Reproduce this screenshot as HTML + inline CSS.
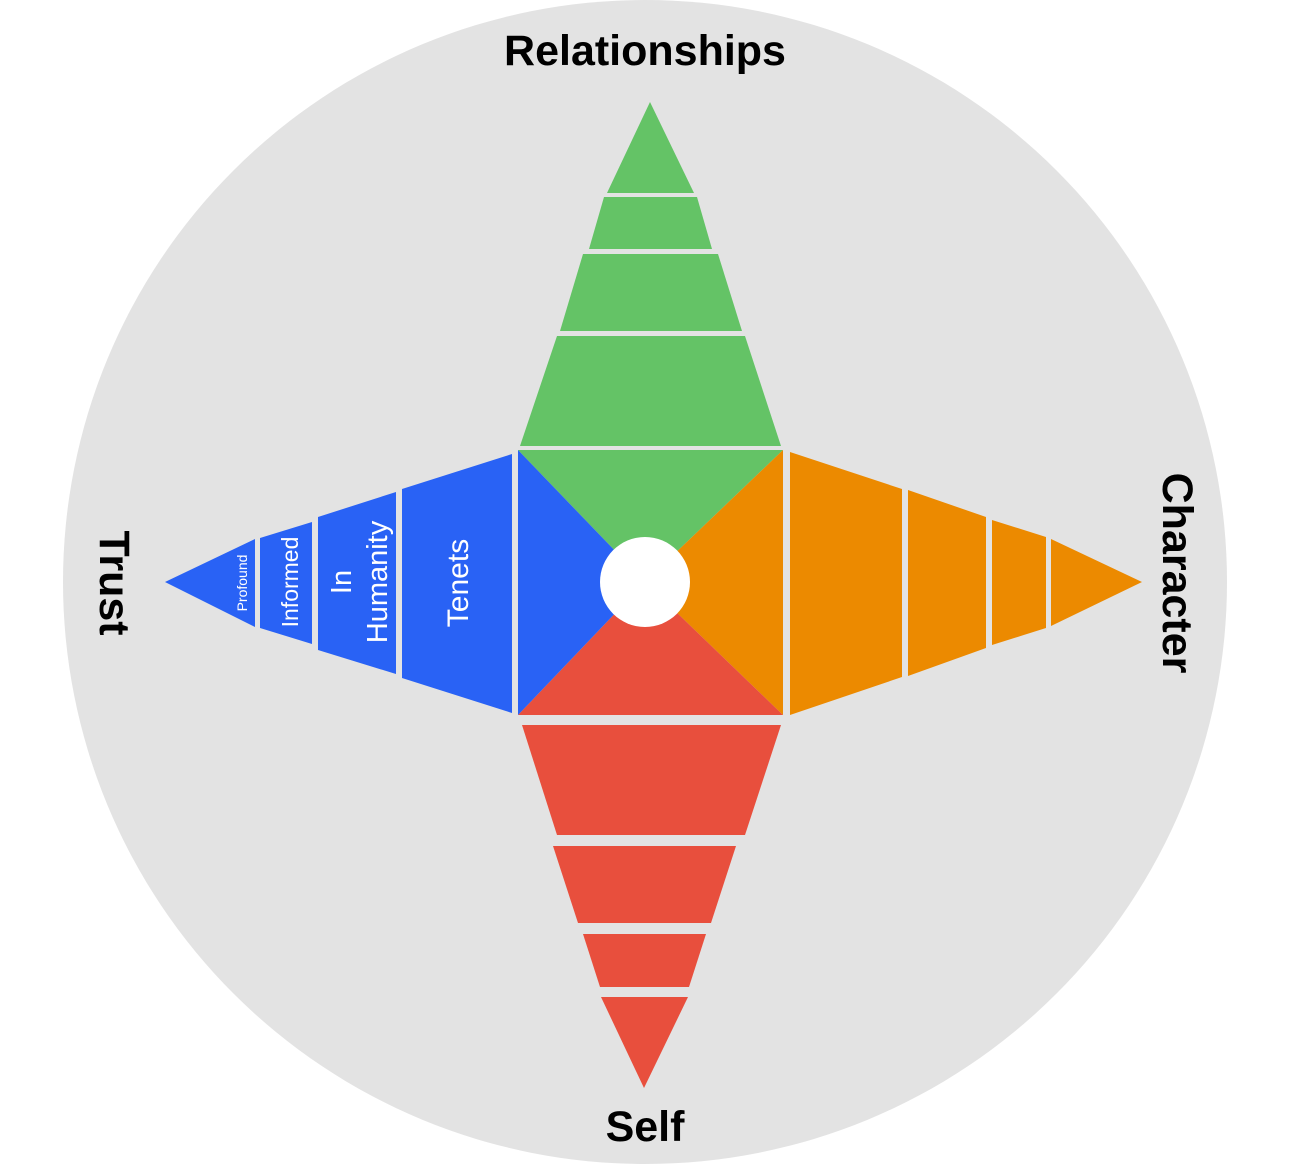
<!DOCTYPE html>
<html><head><meta charset="utf-8"><style>html,body{margin:0;padding:0;background:#fff;}</style></head>
<body>
<svg width="1292" height="1167" viewBox="0 0 1292 1167" xmlns="http://www.w3.org/2000/svg" font-family="Liberation Sans, sans-serif">
<circle cx="645" cy="582" r="582" fill="#e3e3e3"/>
<g fill="#64c366">
<polygon points="650,102 694,193 607,193"/>
<polygon points="604,197 697,197 712,249 589,249"/>
<polygon points="583,254 718,254 742,331 560,331"/>
<polygon points="557,336 745,336 781,446 520,446"/>
</g>
<g fill="#e84f3d">
<polygon points="522,725 781,725 745,835 557,835"/>
<polygon points="553,846 736,846 711,923 578,923"/>
<polygon points="583,934 706,934 689,987 600,987"/>
<polygon points="601,997 688,997 644,1088"/>
</g>
<g fill="#2962f5">
<polygon points="165,582 255,539 255,627"/>
<polygon points="260,538 312,522 312,644 260,628"/>
<polygon points="318,517 396,492 396,674 318,650"/>
<polygon points="402,489 512,454 512,713 402,678"/>
</g>
<g fill="#ec8a00">
<polygon points="790,452 902,489 902,677 790,715"/>
<polygon points="908,490 986,517 986,648 908,676"/>
<polygon points="992,520 1046,537 1046,628 992,645"/>
<polygon points="1051,539 1142,582 1051,626"/>
</g>
<!-- center square -->
<polygon points="518,450 783,450 645,582" fill="#64c366"/>
<polygon points="783,450 783,715 645,582" fill="#ec8a00"/>
<polygon points="518,715 783,715 645,582" fill="#e84f3d"/>
<polygon points="518,450 518,715 645,582" fill="#2962f5"/>
<circle cx="645" cy="582" r="45" fill="#fff"/>
<g font-weight="bold" fill="#000" font-size="43" text-anchor="middle">
<text x="645" y="65">Relationships</text>
<text x="645" y="1141">Self</text>
<text transform="translate(100,583) rotate(90)">Trust</text>
<text transform="translate(1163,573) rotate(90)">Character</text>
</g>
<g fill="#fff" text-anchor="middle">
<text transform="translate(247,583) rotate(-90)" font-size="14">Profound</text>
<text transform="translate(298,582) rotate(-90)" font-size="23">Informed</text>
<text transform="translate(351,582) rotate(-90)" font-size="29">In</text>
<text transform="translate(387,582) rotate(-90)" font-size="29">Humanity</text>
<text transform="translate(468,583) rotate(-90)" font-size="30">Tenets</text>
</g>
</svg>
</body></html>
